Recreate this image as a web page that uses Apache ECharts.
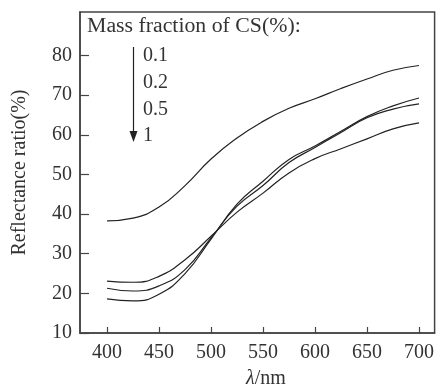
<!DOCTYPE html>
<html>
<head>
<meta charset="utf-8">
<script src="https://cdn.jsdelivr.net/npm/echarts@6/dist/echarts.min.js"></script>
<style>
html,body{margin:0;padding:0;background:#fff;}
#chart{width:437px;height:388px;}
</style>
</head>
<body>
<div id="chart"></div>
<script>
const wavelengths = [400,425,450,475,500,525,550,575,600,625,650,675,700];
const cs01 = [38.3,39.0,41.8,47.2,53.9,59.2,63.4,66.7,69.1,71.7,74.1,76.3,77.5];
const cs02 = [23.1,22.8,24.3,28.5,34.4,40.5,45.3,50.4,54.0,56.5,59.0,61.5,63.0];
const cs05 = [21.3,20.6,21.9,26.0,34.0,42.0,47.2,53.0,56.8,60.6,64.3,66.5,67.8];
const cs1  = [18.6,18.1,19.8,25.0,33.7,42.5,48.3,53.8,57.2,60.9,64.6,67.3,69.3];
const xTicks = [400,450,500,550,600,650,700];
const yTicks = [10,20,30,40,50,60,70,80];
const seriesNames = ['0.1','0.2','0.5','1'];
const legendTitle = 'Mass fraction of CS(%):';

const FONT = '"Liberation Serif","Times New Roman",serif';
const TXT = '#333';
const AX = '#444';

const chart = echarts.init(document.getElementById('chart'), null, {renderer:'canvas'});
const pair = arr => wavelengths.map((w,i)=>[w,arr[i]]);
const allData = [cs01, cs02, cs05, cs1];

const legendGraphics = [
  {type:'text', x:87, y:17, scaleX:1.09, style:{text:legendTitle, fill:TXT, font:'20px '+FONT}}
];
seriesNames.forEach((n,i)=>{
  legendGraphics.push({type:'text', left:143, top:46 + i*26.7, style:{text:n, fill:TXT, font:'20px '+FONT}});
});
legendGraphics.push({type:'line', shape:{x1:133.5,y1:47,x2:133.5,y2:134}, style:{stroke:'#222', lineWidth:1.2}});
legendGraphics.push({type:'polygon', shape:{points:[[129.5,131],[137.5,131],[133.5,142]]}, style:{fill:'#222'}});
legendGraphics.push({type:'text', left:246, top:369, style:{
  rich:{i:{fontStyle:'italic', fontSize:20, fontFamily:FONT, fill:TXT}, n:{fontSize:20, fontFamily:FONT, fill:TXT}},
  text:'{i|λ}{n|/nm}'
}});

chart.setOption({
  animation:false,
  backgroundColor:'#fff',
  grid:{left:80, top:12, right:-2, bottom:55, show:true, borderColor:AX, borderWidth:1.5, backgroundColor:'transparent'},
  xAxis:{
    type:'value', min:374, max:715,
    axisLine:{show:true, lineStyle:{color:AX, width:1.5}},
    axisTick:{show:true, inside:true, length:6, customValues:xTicks, lineStyle:{color:AX, width:1.2}},
    axisLabel:{customValues:xTicks, color:TXT, fontSize:20, fontFamily:FONT, margin:10},
    splitLine:{show:false}
  },
  yAxis:{
    type:'value', min:10, max:91,
    name:'Reflectance ratio(%)', nameLocation:'middle', nameGap:50,
    nameTextStyle:{color:TXT, fontSize:20, fontFamily:FONT},
    axisLine:{show:true, lineStyle:{color:AX, width:1.5}},
    axisTick:{show:true, inside:true, length:9, customValues:yTicks, lineStyle:{color:AX, width:1.2}},
    axisLabel:{customValues:yTicks, color:TXT, fontSize:20, fontFamily:FONT, margin:8},
    splitLine:{show:false}
  },
  graphic: legendGraphics,
  series: allData.map((d,i)=>({
    name: seriesNames[i], type:'line', smooth:true, showSymbol:false,
    data: pair(d), lineStyle:{color:'#222', width:1.2}
  }))
});
</script>
</body>
</html>
